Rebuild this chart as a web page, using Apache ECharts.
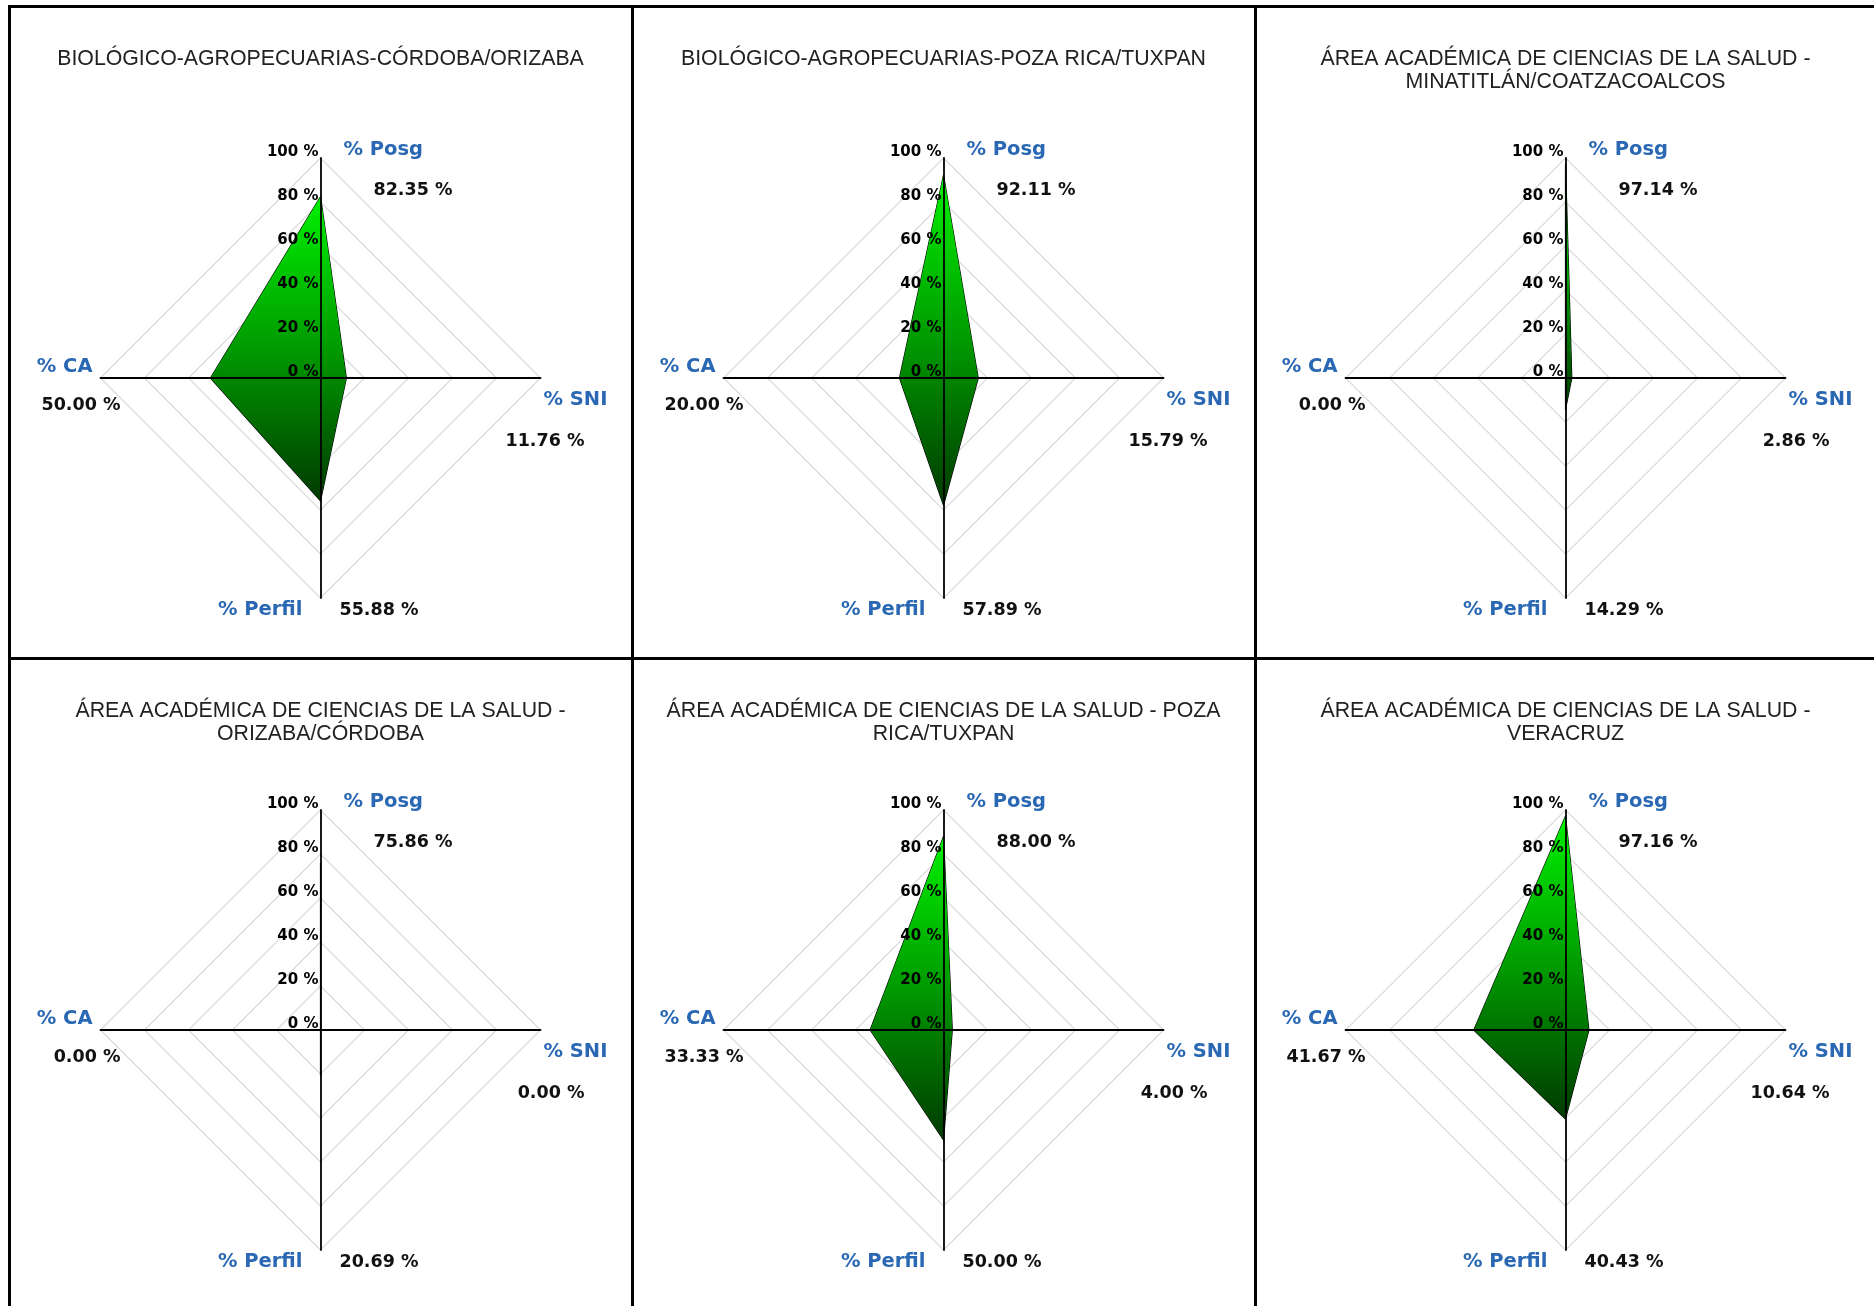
<!DOCTYPE html>
<html><head><meta charset="utf-8">
<script src="https://cdn.jsdelivr.net/npm/echarts@6/dist/echarts.min.js"></script>
<style>
html,body{margin:0;padding:0;background:#fff;width:1874px;height:1306px;overflow:hidden;position:relative;}
.ln{position:absolute;background:#000;}
.ch{position:absolute;width:621px;}
</style></head><body>
<div class="ln" style="left:9px;top:5px;width:1865px;height:3px"></div>
<div class="ln" style="left:8px;top:5px;width:3px;height:1301px"></div>
<div class="ln" style="left:631px;top:5px;width:3px;height:1301px"></div>
<div class="ln" style="left:1254px;top:5px;width:3px;height:1301px"></div>
<div class="ln" style="left:9px;top:657px;width:1865px;height:3px"></div>
<div id="c0" class="ch" style="left:10px;top:8px;height:649px"></div>
<div id="c1" class="ch" style="left:633px;top:8px;height:649px"></div>
<div id="c2" class="ch" style="left:1255px;top:8px;height:649px"></div>
<div id="c3" class="ch" style="left:10px;top:660px;height:646px"></div>
<div id="c4" class="ch" style="left:633px;top:660px;height:646px"></div>
<div id="c5" class="ch" style="left:1255px;top:660px;height:646px"></div>
<script>
const titles = [
  'BIOLÓGICO-AGROPECUARIAS-CÓRDOBA/ORIZABA',
  'BIOLÓGICO-AGROPECUARIAS-POZA RICA/TUXPAN',
  'ÁREA ACADÉMICA DE CIENCIAS DE LA SALUD -\nMINATITLÁN/COATZACOALCOS',
  'ÁREA ACADÉMICA DE CIENCIAS DE LA SALUD -\nORIZABA/CÓRDOBA',
  'ÁREA ACADÉMICA DE CIENCIAS DE LA SALUD - POZA\nRICA/TUXPAN',
  'ÁREA ACADÉMICA DE CIENCIAS DE LA SALUD -\nVERACRUZ'
];
// indicator order as laid out by the radar: top, left, bottom, right
const indicatorNames = ['% Posg', '% CA', '% Perfil', '% SNI'];
const axisMax = 100;
const posg   = [82.35, 92.11, 97.14, 75.86, 88.00, 97.16];
const ca     = [50.00, 20.00, 0.00, 0.00, 33.33, 41.67];
const perfil = [55.88, 57.89, 14.29, 20.69, 50.00, 40.43];
const sni    = [11.76, 15.79, 2.86, 0.00, 4.00, 10.64];

const FONT = "'Liberation Sans', Arial, sans-serif";
const BFONT = "'DejaVu Sans', Verdana, sans-serif";
const HW = 170, HH = 110; // half block size for name labels
// [kind, horizontal offset, vertical offset] relative to the axis end
const nameLayout  = {'% Posg':['L',23,-8], '% CA':['R',-8,-11], '% Perfil':['R',-18,12], '% SNI':['L',3,22]};
const valueLayout = {'% Posg':['L',53,32], '% CA':['R',20,27], '% Perfil':['L',19,12], '% SNI':['R',44,63]};

function makeRich() {
  const rich = {
    nm: {fontFamily: BFONT, fontSize: 19.5, fontWeight: 'bold', color: '#2a68b3', lineHeight: 0},
    vl: {fontFamily: BFONT, fontSize: 17.5, fontWeight: 'bold', color: '#111', lineHeight: 0}
  };
  rich.nmL = Object.assign({}, rich.nm, {align: 'left'});
  rich.nmR = Object.assign({}, rich.nm, {align: 'right'});
  rich.vlL = Object.assign({}, rich.vl, {align: 'left'});
  rich.vlR = Object.assign({}, rich.vl, {align: 'right'});
  return rich;
}
function spacer(rich, w, h, align) {
  const k = 'sp' + Math.round(w) + 'x' + Math.round(h * 10) + align;
  rich[k] = {width: w, lineHeight: h, height: h, fontSize: 1, align: align};
  return '{' + k + '| }';
}
function buildBlock(rich, items) {
  items.sort((a, b) => a.dy - b.dy);
  const lines = [];
  let cur = -HH;
  items.forEach((it, i) => {
    lines.push(spacer(rich, i === 0 ? 2 * HW : 1, it.dy - cur, 'left'));
    cur = it.dy;
    const base = it.isName ? 'nm' : 'vl';
    if (it.kind === 'L') {
      lines.push(spacer(rich, HW + it.off, 0, 'left') + '{' + base + 'L|' + it.text + '}');
    } else {
      lines.push('{' + base + 'R|' + it.text + '}' + spacer(rich, HW - it.off, 0, 'right'));
    }
  });
  lines.push(spacer(rich, 1, HH - cur, 'left'));
  return lines.join('\n');
}

// role: 'grid' (split lines), 'axes' (axis lines + names), 'ticks' (tick labels on first axis)
function radarBase(role, formatter, rich) {
  return {
    center: ['50%', 370],
    radius: 220,
    startAngle: 90,
    shape: 'polygon',
    splitNumber: 5,
    z: role === 'grid' ? 0 : 3,
    axisNameGap: 0,
    nameMoveOverlap: false,
    indicator: indicatorNames.map((n, i) => {
      const o = {name: n, min: 0, max: axisMax};
      if (role === 'ticks' && i === 0) o.axisLabel = {show: true};
      return o;
    }),
    axisName: role === 'axes' ? {
      show: true, align: 'center', verticalAlign: 'middle',
      formatter: formatter, rich: rich, fontFamily: BFONT
    } : {show: false},
    axisLine: {show: role === 'axes', lineStyle: {color: '#000', width: 1.8}},
    axisTick: {show: false},
    axisLabel: {
      show: false, formatter: '{value} %', color: '#000', fontWeight: 'bold',
      fontSize: 15, fontFamily: BFONT, margin: 2, align: 'right', verticalAlign: 'bottom',
      lineHeight: 12
    },
    splitLine: {show: role === 'grid', lineStyle: {color: '#c2c2c2', width: 1}},
    splitArea: {show: false}
  };
}

for (let p = 0; p < 6; p++) {
  const vals = [posg[p], ca[p], perfil[p], sni[p]];
  const chart = echarts.init(document.getElementById('c' + p), null, {renderer: 'canvas'});
  const rich = makeRich();
  const formatter = function (name) {
    const idx = indicatorNames.indexOf(name);
    const nl = nameLayout[name], vlay = valueLayout[name];
    return buildBlock(rich, [
      {isName: true, text: name, kind: nl[0], off: nl[1], dy: nl[2]},
      {isName: false, text: vals[idx].toFixed(2) + ' %', kind: vlay[0], off: vlay[1], dy: vlay[2]}
    ]);
  };
  indicatorNames.forEach(n => formatter(n));
  chart.setOption({
    animation: false,
    title: {
      text: titles[p], left: 'center', top: 40, padding: 0,
      textStyle: {fontFamily: FONT, fontSize: 21.3, fontWeight: 'normal', color: '#222', lineHeight: 23}
    },
    radar: [radarBase('grid'), radarBase('axes', formatter, rich), radarBase('ticks')],
    series: [{
      type: 'radar',
      radarIndex: 0,
      z: 2,
      silent: true,
      symbol: 'none',
      lineStyle: {color: '#000', width: 1.2},
      areaStyle: {
        opacity: 1,
        color: new echarts.graphic.LinearGradient(0, 0, 0, 1, [
          {offset: 0, color: '#00f000'},
          {offset: 0.5, color: '#009a00'},
          {offset: 1, color: '#003a00'}
        ])
      },
      data: [{value: vals, name: titles[p]}]
    }]
  });
}
</script>
</body></html>
